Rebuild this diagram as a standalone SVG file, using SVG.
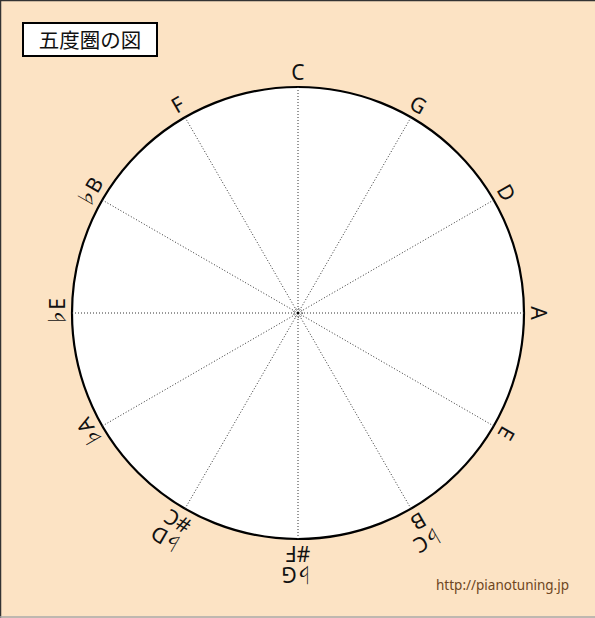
<svg xmlns="http://www.w3.org/2000/svg" width="595" height="618" viewBox="0 0 595 618">
<style>
.lbl{font-family:"Noto Sans","DejaVu Sans","Noto Sans CJK JP",sans-serif;font-size:21px;fill:#111;text-anchor:middle}
.fl{font-family:"Noto Sans CJK JP",sans-serif;font-size:20px}
.spoke{stroke:#333;stroke-width:1;stroke-dasharray:1 2;fill:none}
</style>
<rect x="0" y="0" width="595" height="618" fill="#FCE3C4"/>
<line x1="0" y1="0.5" x2="595" y2="0.5" stroke="#333" stroke-width="1.5"/>
<line x1="0.5" y1="0" x2="0.5" y2="618" stroke="#333" stroke-width="1.5"/>
<line x1="0" y1="617" x2="595" y2="617" stroke="#aaa" stroke-width="1.5"/>
<g id="title">
<rect x="23" y="23" width="134" height="33" fill="#fff" stroke="#000" stroke-width="2"/>
<text x="90" y="47.5" font-family="'Noto Sans CJK JP',sans-serif" font-size="20.5" text-anchor="middle" fill="#111">五度圏の図</text>
</g>
<g id="circle">
<circle cx="298" cy="313" r="226" fill="#fff" stroke="#000" stroke-width="2.2"/>
</g>
<g id="connectors">
<line class="spoke" x1="298" y1="313" x2="298" y2="87"/>
<line class="spoke" x1="298" y1="313" x2="411" y2="117.3"/>
<line class="spoke" x1="298" y1="313" x2="493.7" y2="200"/>
<line class="spoke" x1="298" y1="313" x2="524" y2="313"/>
<line class="spoke" x1="298" y1="313" x2="493.7" y2="426"/>
<line class="spoke" x1="298" y1="313" x2="411" y2="508.7"/>
<line class="spoke" x1="298" y1="313" x2="298" y2="539"/>
<line class="spoke" x1="298" y1="313" x2="185" y2="508.7"/>
<line class="spoke" x1="298" y1="313" x2="102.3" y2="426"/>
<line class="spoke" x1="298" y1="313" x2="72" y2="313"/>
<line class="spoke" x1="298" y1="313" x2="102.3" y2="200"/>
<line class="spoke" x1="298" y1="313" x2="185" y2="117.3"/>
<circle class="spoke" cx="298" cy="313" r="4.5"/>
<circle cx="298" cy="313" r="1.5" fill="#000"/>
</g>
<g id="label-C"><text class="lbl" x="298" y="80" transform="rotate(0 298 313)">C</text></g>
<g id="label-G"><text class="lbl" x="298" y="80" transform="rotate(30 298 313)">G</text></g>
<g id="label-D"><text class="lbl" x="298" y="80" transform="rotate(60 298 313)">D</text></g>
<g id="label-A"><text class="lbl" x="298" y="80" transform="rotate(90 298 313)">A</text></g>
<g id="label-E"><text class="lbl" x="298" y="80" transform="rotate(120 298 313)">E</text></g>
<g id="label-B"><g transform="rotate(150 298 313)"><text class="lbl" x="298" y="59"><tspan class="fl">♭</tspan><tspan dx="-2">C</tspan></text><text class="lbl" x="298" y="80">B</text></g></g>
<g id="label-Fs"><g transform="rotate(180 298 313)"><text class="lbl" x="298" y="59"><tspan class="fl">♭</tspan><tspan dx="-2">G</tspan></text><text class="lbl" x="298" y="80">#F</text></g></g>
<g id="label-Cs"><g transform="rotate(210 298 313)"><text class="lbl" x="298" y="59"><tspan class="fl">♭</tspan><tspan dx="-2">D</tspan></text><text class="lbl" x="298" y="80">#C</text></g></g>
<g id="label-Ab"><text class="lbl" x="298" y="80" transform="rotate(240 298 313)"><tspan class="fl">♭</tspan><tspan dx="-2">A</tspan></text></g>
<g id="label-Eb"><text class="lbl" x="298" y="80" transform="rotate(270 298 313)"><tspan class="fl">♭</tspan><tspan dx="-2">E</tspan></text></g>
<g id="label-Bb"><text class="lbl" x="298" y="80" transform="rotate(300 298 313)"><tspan class="fl">♭</tspan><tspan dx="-2">B</tspan></text></g>
<g id="label-F"><text class="lbl" x="298" y="80" transform="rotate(330 298 313)">F</text></g>
<text x="436" y="590" font-family="'Noto Sans','DejaVu Sans',sans-serif" font-size="13.5" fill="#6e4622">http://pianotuning.jp</text>
</svg>
